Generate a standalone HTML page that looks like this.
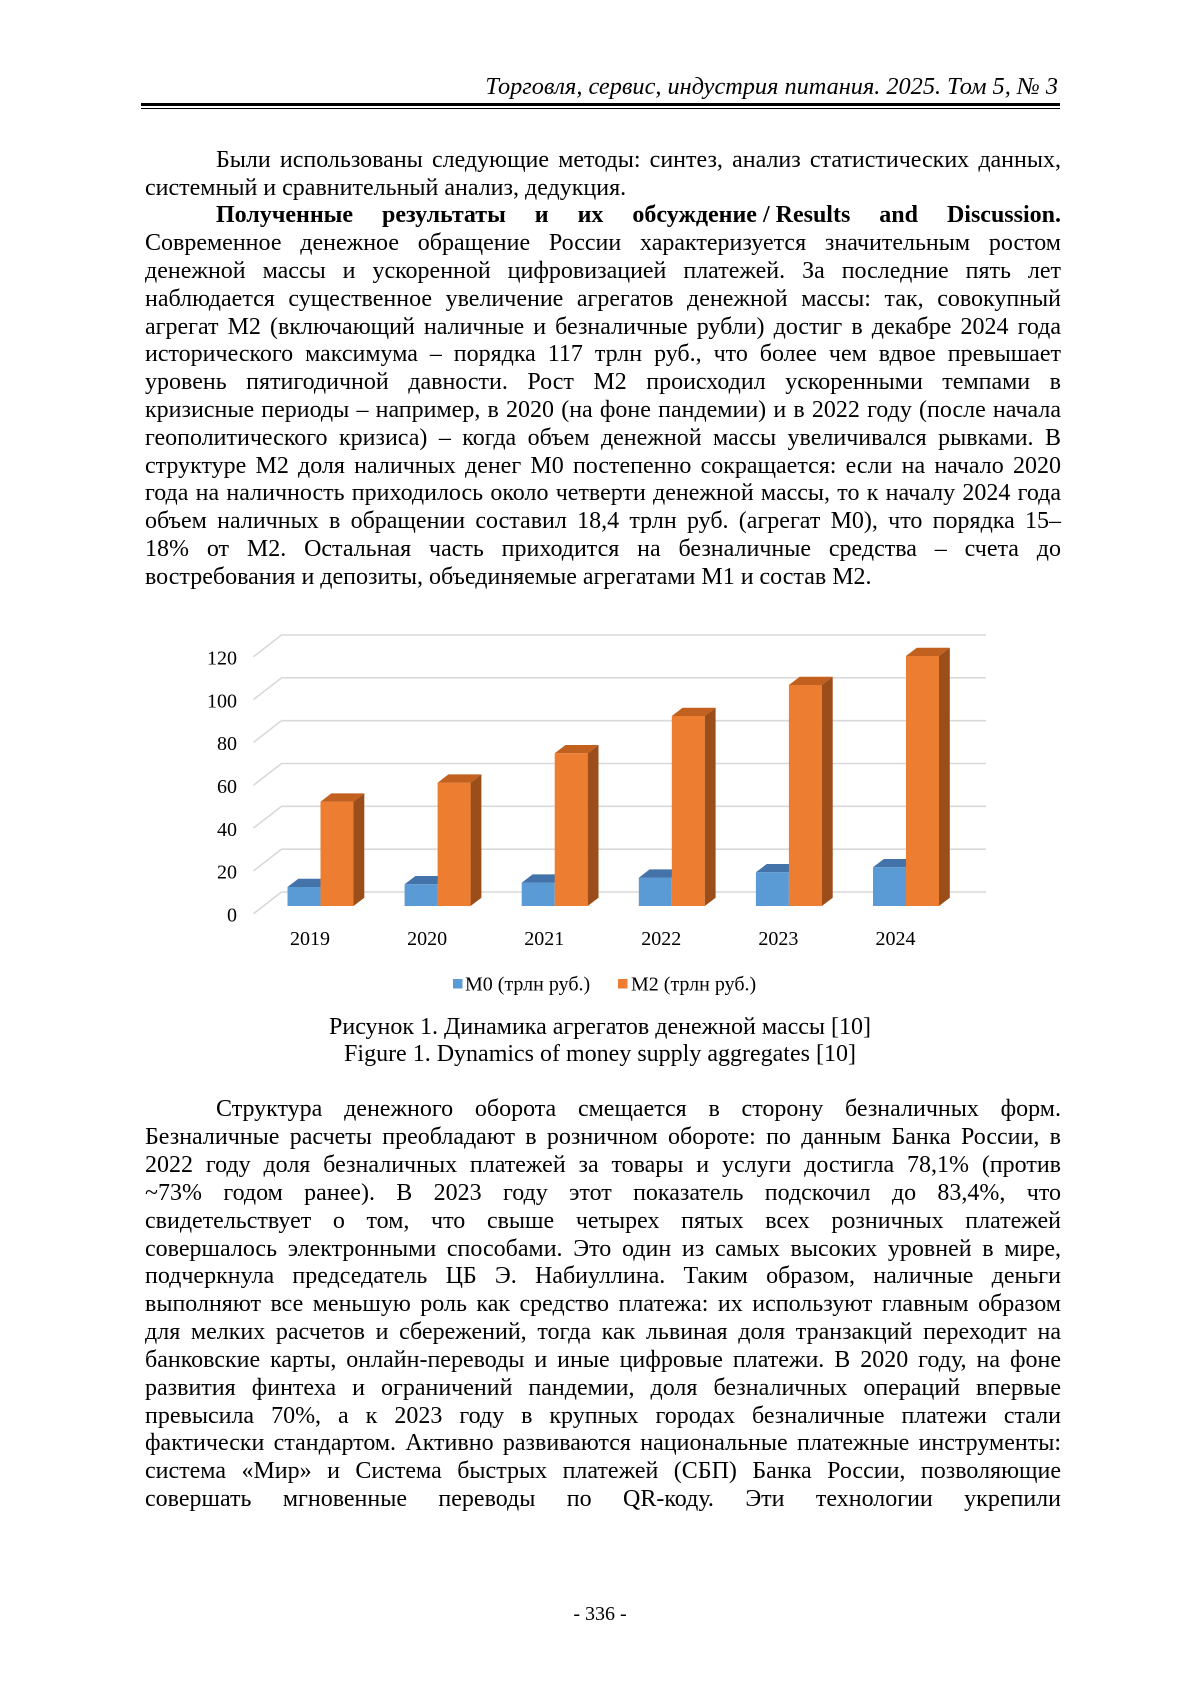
<!DOCTYPE html>
<html lang="ru">
<head>
<meta charset="utf-8">
<style>
html,body{margin:0;padding:0;background:#fff;}
body{width:1200px;height:1697px;position:relative;overflow:hidden;font-family:"Liberation Serif","Times New Roman",serif;color:#000;}
.l{position:absolute;left:145px;width:916px;height:28px;line-height:28px;font-size:24px;white-space:normal;}
.j{text-align:justify;text-align-last:justify;}
.i{left:216px;width:845px;}
.c{left:140px;width:920px;text-align:center;}
.nb{display:inline-block;white-space:nowrap;}
svg{position:absolute;left:0;top:0;}
</style>
</head>
<body>

<div class="l" style="top:72.8px;width:913px;text-align:right;font-style:italic;font-size:24.3px;">Торговля, сервис, индустрия питания. 2025. Том 5, № 3</div>
<div style="position:absolute;left:141px;top:102.5px;width:919px;height:3.5px;background:#000;"></div>
<div style="position:absolute;left:141px;top:107.5px;width:919px;height:1.4px;background:#000;"></div>

<!-- Block 1 -->
<div class="l j i" style="top:145.7px">Были использованы следующие методы: синтез, анализ статистических данных,</div>
<div class="l" style="top:173.5px">системный и сравнительный анализ, дедукция.</div>
<div class="l j i" style="top:201.3px;font-weight:bold">Полученные результаты и их <span class="nb">обсуждение / Results</span> and Discussion.</div>
<div class="l j" style="top:229.1px">Современное денежное обращение России характеризуется значительным ростом</div>
<div class="l j" style="top:256.9px">денежной массы и ускоренной цифровизацией платежей. За последние пять лет</div>
<div class="l j" style="top:284.7px">наблюдается существенное увеличение агрегатов денежной массы: так, совокупный</div>
<div class="l j" style="top:312.5px">агрегат М2 (включающий наличные и безналичные рубли) достиг в декабре 2024 года</div>
<div class="l j" style="top:340.3px">исторического максимума – порядка 117 трлн руб., что более чем вдвое превышает</div>
<div class="l j" style="top:368.1px">уровень пятигодичной давности. Рост М2 происходил ускоренными темпами в</div>
<div class="l j" style="top:395.9px">кризисные периоды – например, в 2020 (на фоне пандемии) и в 2022 году (после начала</div>
<div class="l j" style="top:423.7px">геополитического кризиса) – когда объем денежной массы увеличивался рывками. В</div>
<div class="l j" style="top:451.5px">структуре М2 доля наличных денег М0 постепенно сокращается: если на начало 2020</div>
<div class="l j" style="top:479.3px">года на наличность приходилось около четверти денежной массы, то к началу 2024 года</div>
<div class="l j" style="top:507.1px">объем наличных в обращении составил 18,4 трлн руб. (агрегат М0), что порядка 15–</div>
<div class="l j" style="top:534.9px">18% от М2. Остальная часть приходится на безналичные средства – счета до</div>
<div class="l" style="top:562.7px">востребования и депозиты, объединяемые агрегатами М1 и состав М2.</div>

<!-- Chart -->
<svg width="1200" height="1697" viewBox="0 0 1200 1697" xmlns="http://www.w3.org/2000/svg">
  <g stroke="#d9d9d9" stroke-width="1.6" fill="none">
    <line x1="281.5" y1="635" x2="986" y2="635"/>
    <line x1="281.5" y1="677.83" x2="986" y2="677.83"/>
    <line x1="281.5" y1="720.67" x2="986" y2="720.67"/>
    <line x1="281.5" y1="763.5" x2="986" y2="763.5"/>
    <line x1="281.5" y1="806.33" x2="986" y2="806.33"/>
    <line x1="281.5" y1="849.17" x2="986" y2="849.17"/>
    <line x1="281.5" y1="892" x2="986" y2="892"/>
    <line x1="281.5" y1="635" x2="253.5" y2="656.7"/>
    <line x1="281.5" y1="677.83" x2="253.5" y2="699.53"/>
    <line x1="281.5" y1="720.67" x2="253.5" y2="742.37"/>
    <line x1="281.5" y1="763.5" x2="253.5" y2="785.2"/>
    <line x1="281.5" y1="806.33" x2="253.5" y2="828.03"/>
    <line x1="281.5" y1="849.17" x2="253.5" y2="870.87"/>
    <line x1="281.5" y1="892" x2="253.5" y2="913.7"/>
  </g>
  <g font-family="Liberation Serif, serif" font-size="20" fill="#000" text-anchor="end">
    <text x="237" y="664.5">120</text>
    <text x="237" y="707.3">100</text>
    <text x="237" y="750.2">80</text>
    <text x="237" y="793">60</text>
    <text x="237" y="835.8">40</text>
    <text x="237" y="878.7">20</text>
    <text x="237" y="921.5">0</text>
  </g>

  <!-- 2019 -->
  <rect x="287.5" y="887" width="33" height="19" fill="#5B9BD5"/>
  <polygon points="287.5,887 298.3,878.7 331.3,878.7 320.5,887" fill="#4373a8"/>
  <rect x="320.5" y="801.7" width="33" height="104.3" fill="#ED7D31"/>
  <polygon points="320.5,801.7 331.3,793.4 364.3,793.4 353.5,801.7" fill="#c2611f"/>
  <polygon points="353.5,801.7 364.3,793.4 364.3,897.7 353.5,906" fill="#9b4e1a"/>

  <!-- 2020 -->
  <rect x="404.6" y="884.3" width="33" height="21.7" fill="#5B9BD5"/>
  <polygon points="404.6,884.3 415.4,876 448.4,876 437.6,884.3" fill="#4373a8"/>
  <rect x="437.6" y="782.7" width="33" height="123.3" fill="#ED7D31"/>
  <polygon points="437.6,782.7 448.4,774.4 481.4,774.4 470.6,782.7" fill="#c2611f"/>
  <polygon points="470.6,782.7 481.4,774.4 481.4,897.7 470.6,906" fill="#9b4e1a"/>

  <!-- 2021 -->
  <rect x="521.7" y="882.7" width="33" height="23.3" fill="#5B9BD5"/>
  <polygon points="521.7,882.7 532.5,874.4 565.5,874.4 554.7,882.7" fill="#4373a8"/>
  <rect x="554.7" y="753.3" width="33" height="152.7" fill="#ED7D31"/>
  <polygon points="554.7,753.3 565.5,745 598.5,745 587.7,753.3" fill="#c2611f"/>
  <polygon points="587.7,753.3 598.5,745 598.5,897.7 587.7,906" fill="#9b4e1a"/>

  <!-- 2022 -->
  <rect x="638.8" y="877.7" width="33" height="28.3" fill="#5B9BD5"/>
  <polygon points="638.8,877.7 649.6,869.4 682.6,869.4 671.8,877.7" fill="#4373a8"/>
  <rect x="671.8" y="716" width="33" height="190" fill="#ED7D31"/>
  <polygon points="671.8,716 682.6,707.7 715.6,707.7 704.8,716" fill="#c2611f"/>
  <polygon points="704.8,716 715.6,707.7 715.6,897.7 704.8,906" fill="#9b4e1a"/>

  <!-- 2023 -->
  <rect x="755.9" y="872.3" width="33" height="33.7" fill="#5B9BD5"/>
  <polygon points="755.9,872.3 766.7,864 799.7,864 788.9,872.3" fill="#4373a8"/>
  <rect x="788.9" y="685" width="33" height="221" fill="#ED7D31"/>
  <polygon points="788.9,685 799.7,676.7 832.7,676.7 821.9,685" fill="#c2611f"/>
  <polygon points="821.9,685 832.7,676.7 832.7,897.7 821.9,906" fill="#9b4e1a"/>

  <!-- 2024 -->
  <rect x="873" y="867.3" width="33" height="38.7" fill="#5B9BD5"/>
  <polygon points="873,867.3 883.8,859 916.8,859 906,867.3" fill="#4373a8"/>
  <rect x="906" y="656" width="33" height="250" fill="#ED7D31"/>
  <polygon points="906,656 916.8,647.7 949.8,647.7 939,656" fill="#c2611f"/>
  <polygon points="939,656 949.8,647.7 949.8,897.7 939,906" fill="#9b4e1a"/>

  <g font-family="Liberation Serif, serif" font-size="20" fill="#000" text-anchor="middle">
    <text x="310" y="945">2019</text>
    <text x="427.1" y="945">2020</text>
    <text x="544.2" y="945">2021</text>
    <text x="661.3" y="945">2022</text>
    <text x="778.4" y="945">2023</text>
    <text x="895.5" y="945">2024</text>
  </g>

  <rect x="453" y="979" width="9.5" height="9.5" fill="#5B9BD5"/>
  <text x="465" y="990.5" font-family="Liberation Serif, serif" font-size="20" fill="#000">М0 (трлн руб.)</text>
  <rect x="618" y="979" width="9.5" height="9.5" fill="#ED7D31"/>
  <text x="631" y="990.5" font-family="Liberation Serif, serif" font-size="20" fill="#000">М2 (трлн руб.)</text>
</svg>

<div class="l c" style="top:1012.9px">Рисунок 1. Динамика агрегатов денежной массы [10]</div>
<div class="l c" style="top:1040.4px">Figure 1. Dynamics of money supply aggregates [10]</div>

<!-- Block 2 -->
<div class="l j i" style="top:1095.4px">Структура денежного оборота смещается в сторону безналичных форм.</div>
<div class="l j" style="top:1123.24px">Безналичные расчеты преобладают в розничном обороте: по данным Банка России, в</div>
<div class="l j" style="top:1151.08px">2022 году доля безналичных платежей за товары и услуги достигла 78,1% (против</div>
<div class="l j" style="top:1178.92px">~73% годом ранее). В 2023 году этот показатель подскочил до 83,4%, что</div>
<div class="l j" style="top:1206.76px">свидетельствует о том, что свыше четырех пятых всех розничных платежей</div>
<div class="l j" style="top:1234.6px">совершалось электронными способами. Это один из самых высоких уровней в мире,</div>
<div class="l j" style="top:1262.44px">подчеркнула председатель ЦБ Э. Набиуллина. Таким образом, наличные деньги</div>
<div class="l j" style="top:1290.28px">выполняют все меньшую роль как средство платежа: их используют главным образом</div>
<div class="l j" style="top:1318.12px">для мелких расчетов и сбережений, тогда как львиная доля транзакций переходит на</div>
<div class="l j" style="top:1345.96px">банковские карты, онлайн-переводы и иные цифровые платежи. В 2020 году, на фоне</div>
<div class="l j" style="top:1373.8px">развития финтеха и ограничений пандемии, доля безналичных операций впервые</div>
<div class="l j" style="top:1401.64px">превысила 70%, а к 2023 году в крупных городах безналичные платежи стали</div>
<div class="l j" style="top:1429.48px">фактически стандартом. Активно развиваются национальные платежные инструменты:</div>
<div class="l j" style="top:1457.32px">система «Мир» и Система быстрых платежей (СБП) Банка России, позволяющие</div>
<div class="l j" style="top:1485.16px">совершать мгновенные переводы по QR-коду. Эти технологии укрепили</div>

<div style="position:absolute;left:500px;width:200px;top:1602px;height:24px;line-height:24px;font-size:20px;text-align:center;">- 336 -</div>

</body>
</html>
